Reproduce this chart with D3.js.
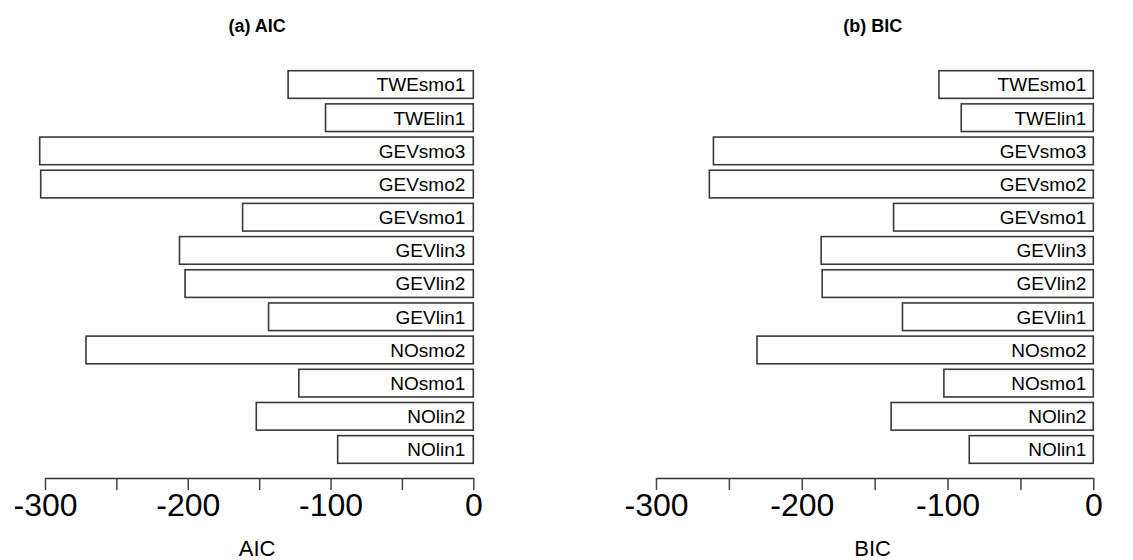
<!DOCTYPE html>
<html>
<head>
<meta charset="utf-8">
<script src="https://cdn.jsdelivr.net/npm/d3@7"></script>
<style>
  body { margin: 0; background: #fff; }
  svg { display: block; font-family: "Liberation Sans", Arial, sans-serif; }
</style>
</head>
<body>
<div id="chart"></div>
<script>
"use strict";

// model names, top to bottom
const models = ["TWEsmo1", "TWElin1", "GEVsmo3", "GEVsmo2", "GEVsmo1", "GEVlin3",
  "GEVlin2", "GEVlin1", "NOsmo2", "NOsmo1", "NOlin2", "NOlin1"];
const aicValues = [-129.7, -103.5, -303.7, -303, -161.6, -205.8, -201.9, -143.4, -271.3, -122.2, -152, -95];
const bicValues = [-105.9, -90.6, -260.6, -263.4, -137, -186.7, -186, -130.9, -230.7, -102.5, -138.7, -85.1];
const tickValues = [-300, -250, -200, -150, -100, -50, 0];
const labelTicks = [-300, -200, -100, 0];

const width = 1133, height = 560;

let svg = d3.select("#chart").append("svg")
  .attr("width", width)
  .attr("height", height);

let panels = [
  { title: "(a) AIC", label: "AIC", values: aicValues, left: 45, right: 473.3, pad: 8 },
  { title: "(b) BIC", label: "BIC", values: bicValues, left: 656, right: 1093.3, pad: 7 }
];

let yScale = d3.scaleBand()
  .domain(models)
  .range([70.7, 463.3])
  .paddingInner(0.2 / 1.2)
  .paddingOuter(0);

const axisY = 478;

panels.forEach(function(p) {
  let xScale = d3.scaleLinear().domain([-300, 0]).range([p.left, p.right]);
  let g = svg.append("g");

  let rows = models.map((m, i) => ({ name: m, value: p.values[i] }));

  g.selectAll(".bar").data(rows)
    .enter().append("rect")
    .attr("class", "bar")
    .attr("x", d => xScale(d.value))
    .attr("y", d => yScale(d.name))
    .attr("width", d => xScale(0) - xScale(d.value))
    .attr("height", yScale.bandwidth())
    .style("fill", "#fff")
    .style("stroke", "#3a3a3a")
    .style("stroke-width", 1.6);

  g.selectAll(".barLabel").data(rows)
    .enter().append("text")
    .attr("class", "barLabel")
    .attr("x", xScale(0) - p.pad)
    .attr("y", d => yScale(d.name) + yScale.bandwidth() / 2)
    .attr("dy", "0.36em")
    .attr("text-anchor", "end")
    .style("font-size", "19px")
    .style("fill", "#000")
    .text(d => d.name);

  let axis = d3.axisBottom(xScale)
    .tickValues(tickValues)
    .tickSize(12)
    .tickSizeOuter(0)
    .tickPadding(3)
    .tickFormat(d => labelTicks.includes(d) ? String(d) : "");

  let ax = g.append("g")
    .attr("transform", `translate(0,${axisY})`)
    .call(axis);
  ax.select(".domain").style("stroke", "#333").style("stroke-width", 1.5);
  ax.selectAll(".tick line").style("stroke", "#444").style("stroke-width", 1.5);
  ax.selectAll(".tick text")
    .style("font-size", "32px")
    .style("font-family", "'Liberation Sans', Arial, sans-serif")
    .style("fill", "#000");

  let center = (p.left + p.right) / 2 - 2;

  g.append("text")
    .attr("x", center)
    .attr("y", 556)
    .attr("text-anchor", "middle")
    .style("font-size", "22px")
    .text(p.label);

  g.append("text")
    .attr("x", center)
    .attr("y", 32)
    .attr("text-anchor", "middle")
    .style("font-size", "18px")
    .style("font-weight", "bold")
    .text(p.title);
});
</script>
</body>
</html>
